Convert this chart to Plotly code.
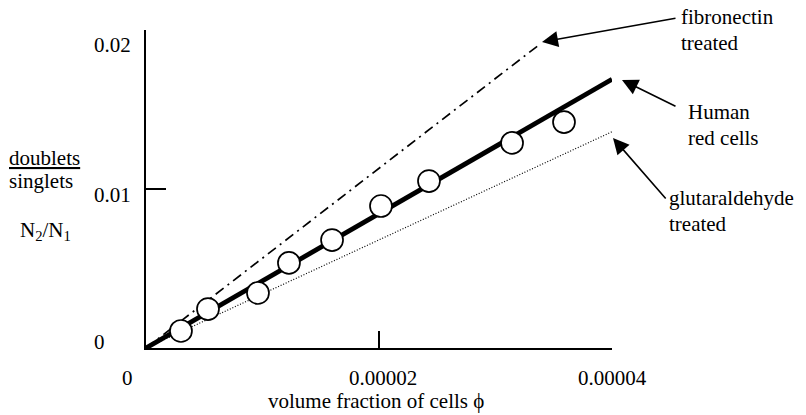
import plotly.graph_objects as go

# ---- data ----
phi_points = [3.0e-6, 5.32e-6, 9.61e-6, 1.227e-5, 1.597e-5, 2.017e-5, 2.429e-5, 3.142e-5, 3.588e-5]
ratio_points = [0.00107, 0.00245, 0.00346, 0.00535, 0.00679, 0.00893, 0.0105, 0.0129, 0.01421]

human_x = [0.0, 4.0e-5]
human_y = [0.0, 0.0169]
fibro_x = [0.0, 3.38e-5]
fibro_y = [0.0, 0.0191]
glut_x = [0.0, 4.0e-5]
glut_y = [0.0, 0.0136]

x_tickvals = [0.0, 2e-5, 4e-5]
x_ticktext = ["0", "0.00002", "0.00004"]
y_tickvals = [0.0, 0.01, 0.02]
y_ticktext = ["0", "0.01", "0.02"]

FONT = "Liberation Serif"
FS = 21
OFF = 8  # default body margin of the html page

fig = go.Figure()
fig.add_trace(go.Scatter(x=glut_x, y=glut_y, mode="lines",
                         line=dict(color="black", width=1.2, dash="1px,1.8px")))
fig.add_trace(go.Scatter(x=fibro_x, y=fibro_y, mode="lines",
                         line=dict(color="black", width=1.7, dash="10px,5px,2px,5px")))
fig.add_trace(go.Scatter(x=human_x, y=human_y, mode="lines",
                         line=dict(color="black", width=4.8)))
fig.add_trace(go.Scatter(x=phi_points, y=ratio_points, mode="markers", cliponaxis=False,
                         marker=dict(size=22, color="white", line=dict(color="black", width=1.7))))

fig.update_layout(
    width=806 - OFF, height=415 - OFF,
    margin=dict(l=146 - OFF, r=194, t=30 - OFF, b=67),
    paper_bgcolor="white", plot_bgcolor="white",
    showlegend=False,
    font=dict(family=FONT, size=FS, color="black"),
    xaxis=dict(range=[0, 4e-5], showline=True, linecolor="black", linewidth=2,
               ticks="inside", tickvals=x_tickvals[1:], ticklen=17, tickwidth=1.5, tickcolor="black",
               showticklabels=False, showgrid=False, zeroline=False, fixedrange=True),
    yaxis=dict(range=[0, 0.02], showline=True, linecolor="black", linewidth=2,
               ticks="inside", tickvals=y_tickvals[1:], ticklen=20, tickwidth=1.5, tickcolor="black",
               showticklabels=False, showgrid=False, zeroline=False, fixedrange=True),
)

ann = []
# x tick labels
x_shifts = [-19, 4, 0]
for v, t, s in zip(x_tickvals, x_ticktext, x_shifts):
    ann.append(dict(x=v, y=0, xref="x", yref="paper", text=t, showarrow=False,
                    xanchor="center", yanchor="middle", xshift=s, yshift=-30))
# y tick labels
y_cfg = [(-39, 6), (-13, -6), (-13, -15)]
for v, t, (xs, ys) in zip(y_tickvals, y_ticktext, y_cfg):
    ann.append(dict(x=0, y=v, xref="paper", yref="y", text=t, showarrow=False,
                    xanchor="right", yanchor="middle", xshift=xs, yshift=ys))
# axis title
ann.append(dict(x=0.5, y=0, xref="paper", yref="paper", text="volume fraction of cells \u03d5",
                showarrow=False, xanchor="center", yanchor="middle", xshift=-3, yshift=-53))


# pixel positions (in the 806x415 page) converted to paper coordinates
def px(xp):
    return (xp - 146) / 466.0


def py(yp):
    return (348 - yp) / 318.0


# y label block
ann.append(dict(x=px(7), y=py(158), xref="paper", yref="paper", text="<u>doublets</u>",
                showarrow=False, xanchor="left", yanchor="middle"))
ann.append(dict(x=px(7), y=py(181), xref="paper", yref="paper", text="singlets",
                showarrow=False, xanchor="left", yanchor="middle"))
ann.append(dict(x=px(18), y=py(231), xref="paper", yref="paper", text="N<sub>2</sub>/N<sub>1</sub>",
                showarrow=False, xanchor="left", yanchor="middle"))

labels = [("fibronectin", 679, 17), ("treated", 679, 43),
          ("Human", 686, 112), ("red cells", 686, 138),
          ("glutaraldehyde", 667, 198), ("treated", 667, 224)]
for t, xp, yp in labels:
    ann.append(dict(x=px(xp), y=py(yp), xref="paper", yref="paper", text=t, showarrow=False,
                    xanchor="left", yanchor="middle", align="left"))

arrows = [((542, 42), (677, 18)), ((622, 80), (677, 107)), ((613, 138), (667, 200))]
for (tx, ty), (sx, sy) in arrows:
    ann.append(dict(x=px(tx), y=py(ty), xref="paper", yref="paper", text="", showarrow=True,
                    ax=sx - tx, ay=sy - ty, arrowhead=2, arrowsize=2.0, arrowwidth=1.6,
                    arrowcolor="black", standoff=0))

fig.update_layout(annotations=ann)
fig.write_html("out.html")
